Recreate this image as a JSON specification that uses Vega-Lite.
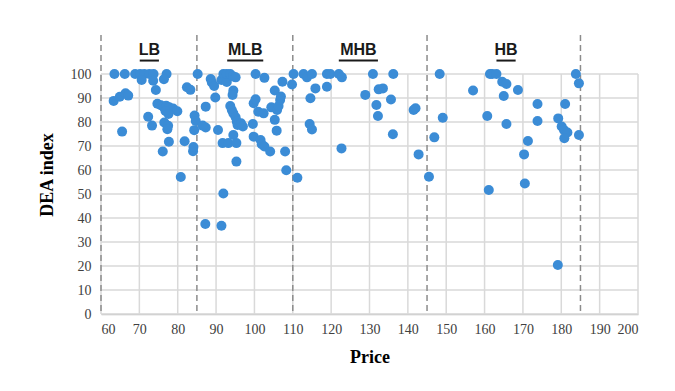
{
  "$schema": "https://vega.github.io/schema/vega-lite/v6.json",
  "width": 537,
  "height": 279,
  "autosize": {"type": "none"},
  "padding": {"left": 101, "top": 35, "right": 37, "bottom": 77},
  "background": "white",
  "config": {
    "view": {"stroke": null},
    "axis": {"labelOverlap": false, "labelFont": "Liberation Serif", "labelFontSize": 14, "labelColor": "#404040", "ticks": false, "grid": false,
      "titleFont": "Liberation Serif", "titleFontSize": 18, "titleFontWeight": "bold", "titleColor": "#000000"},
    "axisX": {"domain": true, "domainColor": "#bfbfbf", "domainWidth": 1.5, "labelPadding": 8, "titlePadding": 12},
    "axisY": {"domain": false, "labelPadding": 10, "titlePadding": 14}
  },
  "datasets": {
    "pts": [
      {"price":63.5,"dea":100},{"price":66.2,"dea":100},{"price":68.9,"dea":100},{"price":70.2,"dea":100},{"price":71.3,"dea":100},{"price":72.6,"dea":100},{"price":73.7,"dea":100},{"price":77.1,"dea":100},{"price":76.4,"dea":97.8},{"price":70.6,"dea":97.5},{"price":73.6,"dea":97.2},{"price":63.3,"dea":88.8},{"price":64.9,"dea":90.5},{"price":66.4,"dea":92.0},{"price":67.1,"dea":91.0},{"price":65.5,"dea":76.0},{"price":74.3,"dea":93.3},{"price":72.3,"dea":82.2},{"price":73.3,"dea":78.5},{"price":74.7,"dea":87.6},{"price":75.6,"dea":87.0},{"price":76.3,"dea":86.4},{"price":77.0,"dea":86.8},{"price":77.8,"dea":86.1},{"price":78.8,"dea":85.6},{"price":79.9,"dea":84.5},{"price":76.8,"dea":84.6},{"price":77.6,"dea":83.3},{"price":76.5,"dea":79.8},{"price":77.5,"dea":78.4},{"price":77.3,"dea":77.0},{"price":77.7,"dea":71.8},{"price":76.1,"dea":67.7},{"price":80.8,"dea":57.1},{"price":81.8,"dea":72.0},{"price":82.4,"dea":94.5},{"price":83.3,"dea":93.4},{"price":84.0,"dea":67.8},{"price":84.1,"dea":69.6},{"price":84.3,"dea":76.6},{"price":84.4,"dea":82.7},{"price":84.7,"dea":80.4},{"price":85.2,"dea":100},
      {"price":88.6,"dea":97.9},{"price":88.9,"dea":96.5},{"price":89.5,"dea":95.0},{"price":89.8,"dea":90.2},{"price":87.3,"dea":86.4},{"price":87.3,"dea":77.7},{"price":86.5,"dea":78.5},{"price":87.2,"dea":37.5},{"price":90.5,"dea":76.7},{"price":91.4,"dea":36.8},{"price":91.9,"dea":50.2},{"price":91.7,"dea":71.2},{"price":93.2,"dea":71.2},{"price":91.4,"dea":97.5},{"price":92.8,"dea":96.7},{"price":91.9,"dea":100},{"price":92.8,"dea":100},{"price":93.7,"dea":100},{"price":94.5,"dea":99.0},{"price":95.1,"dea":98.6},{"price":94.5,"dea":93.1},{"price":94.3,"dea":91.3},{"price":93.7,"dea":86.7},{"price":94.1,"dea":85.0},{"price":94.5,"dea":83.6},{"price":95.1,"dea":82.0},{"price":95.4,"dea":80.2},{"price":95.6,"dea":78.8},{"price":96.5,"dea":79.5},{"price":97.0,"dea":78.1},{"price":94.5,"dea":74.6},{"price":95.3,"dea":71.2},{"price":95.3,"dea":63.5},{"price":99.6,"dea":79.2},{"price":99.8,"dea":87.8},{"price":100.3,"dea":89.5},{"price":100.3,"dea":100},{"price":99.8,"dea":73.9},{"price":101.0,"dea":84.3},{"price":101.6,"dea":72.5},{"price":101.9,"dea":70.7},{"price":102.4,"dea":83.6},{"price":102.6,"dea":98.4},{"price":102.6,"dea":69.8},{"price":104.1,"dea":67.7},{"price":104.4,"dea":86.1},{"price":105.3,"dea":93.1},{"price":105.3,"dea":80.9},{"price":105.8,"dea":76.4},{"price":105.9,"dea":85.0},{"price":106.3,"dea":86.7},{"price":106.7,"dea":89.2},{"price":106.9,"dea":90.6},{"price":107.3,"dea":96.8},{"price":108.0,"dea":67.7},{"price":108.3,"dea":59.9},{"price":109.8,"dea":95.6},
      {"price":110.2,"dea":100},{"price":112.8,"dea":100},{"price":113.7,"dea":98.6},{"price":115.0,"dea":100},{"price":115.9,"dea":94.0},{"price":114.6,"dea":89.9},{"price":114.4,"dea":79.2},{"price":115.0,"dea":76.9},{"price":111.2,"dea":56.8},{"price":118.9,"dea":100},{"price":119.8,"dea":100},{"price":118.9,"dea":94.7},{"price":122.0,"dea":100},{"price":122.8,"dea":98.6},{"price":122.7,"dea":69.0},{"price":130.9,"dea":100},{"price":128.9,"dea":91.3},{"price":131.8,"dea":87.1},{"price":132.2,"dea":82.5},{"price":132.4,"dea":93.6},{"price":133.5,"dea":94.0},{"price":136.2,"dea":100},{"price":135.6,"dea":89.4},{"price":136.1,"dea":74.9},{"price":141.5,"dea":85.0},{"price":142.0,"dea":85.7},{"price":142.8,"dea":66.5},{"price":145.5,"dea":57.2},
      {"price":146.9,"dea":73.6},{"price":148.3,"dea":100},{"price":149.1,"dea":81.8},{"price":157.0,"dea":93.1},{"price":160.7,"dea":82.5},{"price":161.1,"dea":51.7},{"price":161.4,"dea":100},{"price":162.0,"dea":100},{"price":163.1,"dea":100},{"price":164.6,"dea":96.8},{"price":165.7,"dea":95.8},{"price":165.0,"dea":90.8},{"price":165.7,"dea":79.2},{"price":168.7,"dea":93.3},{"price":170.3,"dea":66.5},{"price":170.5,"dea":54.4},{"price":171.3,"dea":72.1},{"price":173.8,"dea":87.5},{"price":173.8,"dea":80.4},{"price":179.2,"dea":81.5},{"price":180.1,"dea":78.1},{"price":180.7,"dea":76.7},{"price":181.6,"dea":75.6},{"price":180.8,"dea":73.2},{"price":181.0,"dea":87.5},{"price":183.8,"dea":100},{"price":184.6,"dea":96.1},{"price":184.6,"dea":74.6},{"price":179.1,"dea":20.4}
    ],
    "vgrid": [{"price":60},{"price":70},{"price":80},{"price":90},{"price":100},{"price":110},{"price":120},{"price":130},{"price":140},{"price":150},{"price":160},{"price":170},{"price":180},{"price":190},{"price":200}],
    "hgrid": [{"dea":0},{"dea":10},{"dea":20},{"dea":30},{"dea":40},{"dea":50},{"dea":60},{"dea":70},{"dea":80},{"dea":90},{"dea":100}],
    "bounds": [{"price":60},{"price":85},{"price":110},{"price":145},{"price":185}],
    "labels": [
      {"price":72.6,"label":"LB","from":70.1,"to":75.1},
      {"price":97.6,"label":"MLB","from":92.9,"to":102.3},
      {"price":127.1,"label":"MHB","from":122.0,"to":132.2},
      {"price":165.6,"label":"HB","from":163.1,"to":168.1}
    ]
  },
  "layer": [
    {
      "data": {"name": "hgrid"},
      "mark": {"type": "rule", "color": "#d9d9d9", "strokeWidth": 1.5},
      "encoding": {
        "y": {"field": "dea", "type": "quantitative", "scale": {"domain": [0, 116.25], "nice": false, "zero": false},
          "axis": {"values": [0,10,20,30,40,50,60,70,80,90,100], "title": "DEA index"}},
        "x": {"datum": 60, "type": "quantitative", "scale": {"domain": [60, 200], "nice": false, "zero": false},
          "axis": {"values": [60,70,80,90,100,110,120,130,140,150,160,170,180,190,200], "title": "Price"}},
        "x2": {"datum": 200}
      }
    },
    {
      "data": {"name": "vgrid"},
      "mark": {"type": "rule", "color": "#d9d9d9", "strokeWidth": 1.5},
      "encoding": {
        "x": {"field": "price", "type": "quantitative", "axis": {"values": [60,70,80,90,100,110,120,130,140,150,160,170,180,190,200], "title": "Price"}},
        "y": {"datum": 0, "type": "quantitative", "axis": {"values": [0,10,20,30,40,50,60,70,80,90,100], "title": "DEA index"}},
        "y2": {"datum": 100}
      }
    },
    {
      "data": {"name": "bounds"},
      "mark": {"type": "rule", "color": "#8c8c8c", "strokeWidth": 1.5, "strokeDash": [6, 4]},
      "encoding": {"x": {"field": "price", "type": "quantitative", "axis": {"values": [60,70,80,90,100,110,120,130,140,150,160,170,180,190,200], "title": "Price"}}}
    },
    {
      "data": {"name": "pts"},
      "mark": {"type": "circle", "color": "#3B8CD6", "opacity": 1, "size": 100},
      "encoding": {
        "x": {"field": "price", "type": "quantitative", "axis": {"values": [60,70,80,90,100,110,120,130,140,150,160,170,180,190,200], "title": "Price"}},
        "y": {"field": "dea", "type": "quantitative", "axis": {"values": [0,10,20,30,40,50,60,70,80,90,100], "title": "DEA index"}}
      }
    },
    {
      "data": {"name": "labels"},
      "mark": {"type": "text", "font": "Liberation Sans", "fontSize": 16, "fontWeight": "bold", "color": "#1a1a1a", "baseline": "middle"},
      "encoding": {
        "x": {"field": "price", "type": "quantitative", "axis": {"values": [60,70,80,90,100,110,120,130,140,150,160,170,180,190,200], "title": "Price"}},
        "y": {"datum": 110, "type": "quantitative", "axis": {"values": [0,10,20,30,40,50,60,70,80,90,100], "title": "DEA index"}},
        "text": {"field": "label"}
      }
    },
    {
      "data": {"name": "labels"},
      "mark": {"type": "rule", "color": "#1a1a1a", "strokeWidth": 2},
      "encoding": {
        "x": {"field": "from", "type": "quantitative", "axis": {"values": [60,70,80,90,100,110,120,130,140,150,160,170,180,190,200], "title": "Price"}},
        "x2": {"field": "to"},
        "y": {"datum": 105.6, "type": "quantitative", "axis": {"values": [0,10,20,30,40,50,60,70,80,90,100], "title": "DEA index"}}
      }
    }
  ]
}
